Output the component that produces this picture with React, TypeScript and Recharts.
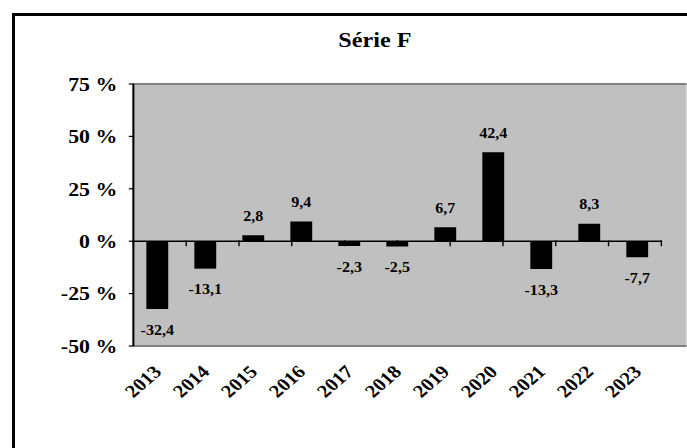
import React from 'react';
import {
  BarChart,
  Bar,
  XAxis,
  YAxis,
  ReferenceArea,
  ReferenceLine,
  LabelList,
} from 'recharts';

// Annual change, in percent
const years = ['2013', '2014', '2015', '2016', '2017', '2018', '2019', '2020', '2021', '2022', '2023'];
const changes = [-32.4, -13.1, 2.8, 9.4, -2.3, -2.5, 6.7, 42.4, -13.3, 8.3, -7.7];
const yTicks = [-50, -25, 0, 25, 50, 75];
const title = 'Série F';

const rows = years.map((year, i) => ({ year, value: changes[i] }));
const boundaries = years.map((_, i) => i).concat(years.length);

const FONT = '"Liberation Serif", "Times New Roman", serif';
// The whole chart is drawn slightly widened, like the exported picture.
const STRETCH = 1.15;
const OUTER_W = 687;
const OUTER_H = 448;
const INNER_W = OUTER_W / STRETCH;

const fmtValue = (v: number) => v.toFixed(1).replace('.', ',');

const YearTick = (props: any) => {
  const { x, y, payload } = props;
  return (
    <g transform={`translate(${x + 4.5},${y + 27})`}>
      <text
        x={0}
        y={0}
        textAnchor="end"
        transform="rotate(-45)"
        fontSize={18}
        fontWeight={700}
        fontFamily={FONT}
        fill="#000"
      >
        {payload.value}
      </text>
    </g>
  );
};

const ValueLabel = (props: any) => {
  const { x, y, width, height, value } = props;
  const top = Math.min(y, y + height);
  const bottom = Math.max(y, y + height);
  const cy = value >= 0 ? top - 19 : bottom + 21;
  return (
    <text
      x={x + width / 2}
      y={cy}
      textAnchor="middle"
      dominantBaseline="central"
      fontSize={14}
      fontWeight={700}
      fontFamily={FONT}
      fill="#000"
    >
      {fmtValue(value)}
    </text>
  );
};

const TickMark = (props: any) => {
  const { x1, y1 } = props;
  return <line x1={x1} x2={x1} y1={y1 - 1} y2={y1 + 5} stroke="#000" strokeWidth={1.2} />;
};

export default function App() {
  return (
    <div
      style={{
        position: 'absolute',
        left: 0,
        top: 0,
        width: OUTER_W,
        height: OUTER_H,
        overflow: 'hidden',
        background: '#fff',
      }}
    >
      <div
        style={{
          position: 'absolute',
          left: 12,
          top: 13,
          width: 720,
          height: 480,
          border: '3px solid #000',
          boxSizing: 'border-box',
        }}
      />
      <div
        style={{
          position: 'absolute',
          left: 0,
          top: 0,
          width: INNER_W,
          height: OUTER_H,
          transform: `scaleX(${STRETCH})`,
          transformOrigin: '0 0',
          fontFamily: FONT,
        }}
      >
        <div
          style={{
            position: 'absolute',
            left: 226,
            top: 30,
            width: 200,
            textAlign: 'center',
            fontSize: 21,
            lineHeight: '21px',
            fontWeight: 700,
            color: '#000',
          }}
        >
          {title}
        </div>
        <BarChart
          width={INNER_W}
          height={OUTER_H}
          data={rows}
          margin={{ top: 84, right: 22.3, bottom: 0, left: 0 }}
          barCategoryGap="27%"
          style={{ fontFamily: FONT }}
        >
          <XAxis
            dataKey="year"
            height={102}
            axisLine={false}
            tickLine={false}
            tickSize={0}
            tickMargin={0}
            interval={0}
            tick={<YearTick />}
          />
          <XAxis xAxisId="num" type="number" domain={[0, years.length]} hide />
          <YAxis
            width={116}
            domain={[-50, 75]}
            ticks={yTicks}
            interval={0}
            allowDataOverflow
            tickFormatter={(v: number) => `${v} %`}
            tick={{ fontSize: 19, fontWeight: 700, fill: '#000', fontFamily: FONT }}
            axisLine={{ stroke: '#000', strokeWidth: 1.5 }}
            tickLine={{ stroke: '#000', strokeWidth: 1.2 }}
            tickSize={4}
            tickMargin={10}
          />
          <ReferenceArea
            xAxisId="num"
            x1={0}
            x2={years.length}
            y1={-50}
            y2={75}
            fill="#c0c0c0"
            fillOpacity={1}
            stroke="#808080"
            strokeWidth={2}
            ifOverflow="visible"
          />
          <ReferenceLine y={0} stroke="#000" strokeWidth={1.5} />
          {boundaries.map((b) => (
            <ReferenceLine
              key={b}
              xAxisId="num"
              segment={[
                { x: b, y: 0 },
                { x: b, y: 0 },
              ]}
              shape={<TickMark />}
              ifOverflow="visible"
            />
          ))}
          <Bar dataKey="value" fill="#000" isAnimationActive={false}>
            <LabelList dataKey="value" content={<ValueLabel />} />
          </Bar>
        </BarChart>
      </div>
    </div>
  );
}
